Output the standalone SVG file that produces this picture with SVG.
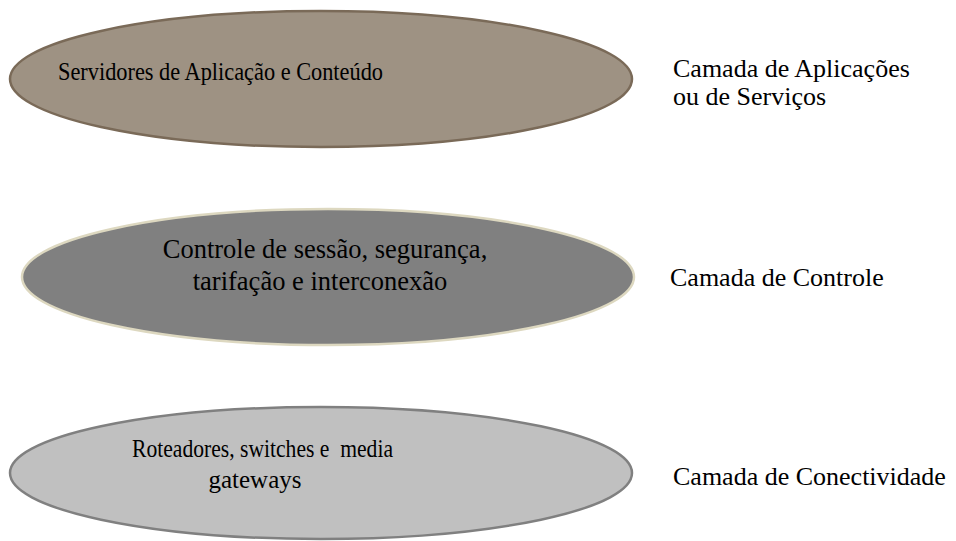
<svg xmlns="http://www.w3.org/2000/svg" width="956" height="541" viewBox="0 0 956 541">
<style>
text{font-family:'Liberation Serif',serif;fill:#000}
.e{font-size:25px}
.c{font-size:26.5px}
.l{font-size:26px}
</style>
<rect width="956" height="541" fill="#fff"/>
<g id="node-app">
<ellipse cx="321" cy="79" rx="311" ry="68" fill="#9e9283" stroke="#7a6a58" stroke-width="2.5"/>
<text class="e" x="58" y="80" textLength="325" lengthAdjust="spacingAndGlyphs">Servidores de Aplicação e Conteúdo</text>
</g>
<g id="node-control">
<ellipse cx="328" cy="277" rx="306" ry="68" fill="#808080" stroke="#ddd8c0" stroke-width="2.5"/>
<text class="c" x="325" y="258" text-anchor="middle">Controle de sessão, segurança,</text>
<text class="c" x="320" y="290" text-anchor="middle">tarifação e interconexão</text>
</g>
<g id="node-conn">
<ellipse cx="321" cy="473" rx="311" ry="66" fill="#c0c0c0" stroke="#808080" stroke-width="2.5"/>
<text class="e" x="132" y="457" textLength="261" lengthAdjust="spacingAndGlyphs" xml:space="preserve">Roteadores, switches e  media</text>
<text class="e" x="255" y="488" text-anchor="middle">gateways</text>
</g>
<g id="labels">
<text class="l" x="673" y="77">Camada de Aplicações</text>
<text class="l" x="673" y="105">ou de Serviços</text>
<text class="l" x="670" y="286">Camada de Controle</text>
<text class="l" x="673" y="485">Camada de Conectividade</text>
</g>
<g id="connectors"/>
</svg>
